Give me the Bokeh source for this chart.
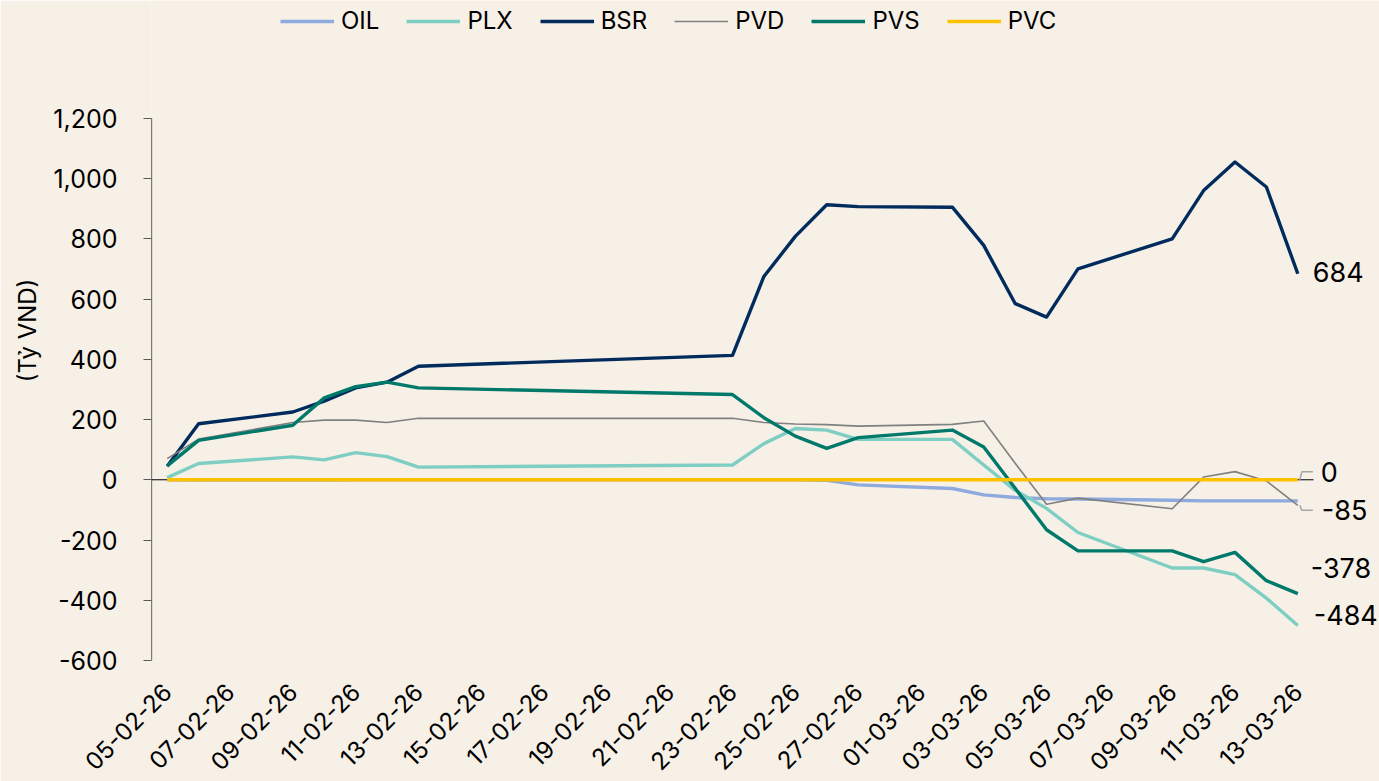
import pandas as pd
from math import pi
from bokeh.plotting import figure
from bokeh.models import (Range1d, FixedTicker, NumeralTickFormatter, Legend, LegendItem,
                          ColumnDataSource)
from bokeh.core.properties import value
from bokeh.embed import file_html
from bokeh.resources import INLINE

# ---------------- data ----------------
dates = ["05-02-26", "06-02-26", "09-02-26", "10-02-26", "11-02-26", "12-02-26", "13-02-26",
         "23-02-26", "24-02-26", "25-02-26", "26-02-26", "27-02-26", "02-03-26", "03-03-26",
         "04-03-26", "05-03-26", "06-03-26", "09-03-26", "10-03-26", "11-03-26", "12-03-26",
         "13-03-26"]
OIL = [0, -1, -1, -1, 0, 0, 0, 0, 0, 0, -2, -17, -29, -50, -59, -63, -64, -68, -70, -70, -70, -70]
PLX = [7, 54, 76, 66, 90, 77, 42, 49, 120, 170, 165, 134, 134, 49, -35, -95, -175, -293, -293,
       -315, -393, -484]
BSR = [45, 186, 225, 261, 305, 324, 377, 413, 675, 808, 913, 907, 905, 778, 585, 540, 700, 800,
       960, 1055, 972, 684]
PVD = [70, 135, 190, 198, 198, 190, 204, 204, 190, 185, 183, 178, 184, 195, 55, -81, -61, -96,
       9, 27, -4, -85]
PVS = [46, 131, 181, 272, 309, 324, 305, 283, 206, 145, 104, 140, 165, 109, -28, -166, -236,
       -236, -272, -241, -335, -378]
PVC = [0] * 22

series_names = ["OIL", "PLX", "BSR", "PVD", "PVS", "PVC"]
series_values = [OIL, PLX, BSR, PVD, PVS, PVC]

tick_labels = ["05-02-26", "07-02-26", "09-02-26", "11-02-26", "13-02-26", "15-02-26",
               "17-02-26", "19-02-26", "21-02-26", "23-02-26", "25-02-26", "27-02-26",
               "01-03-26", "03-03-26", "05-03-26", "07-03-26", "09-03-26", "11-03-26",
               "13-03-26"]
y_ticks = [-600, -400, -200, 0, 200, 400, 600, 800, 1000, 1200]
y_title = "(Tỷ VND)"

# series that carry an end value label
labelled = ["BSR", "PVC", "PVD", "PVS", "PLX"]

# ---------------- style / layout ----------------
colors = {"OIL": "#8FAADC", "PLX": "#7FCEC3", "BSR": "#002B5C", "PVD": "#808080",
          "PVS": "#00796B", "PVC": "#FFC000"}
widths = {"OIL": 3.4, "PLX": 3.4, "BSR": 3.4, "PVD": 1.6, "PVS": 3.4, "PVC": 3.4}
label_off = {"BSR": (15, -2), "PVC": (23, -8), "PVD": (24, 5), "PVS": (13, -26), "PLX": (16, -11)}
leader_for = ["PVC", "PVD"]
BG = "#F6F0E7"
FONT = "Inter"

W, H = 1379, 781
PLOT_L, PLOT_R, PLOT_T, PLOT_B = 151, 1313, 118, 661   # visible plot area (px)

start = pd.Timestamp(2026, 2, 5)


def day(s):
    return float((pd.to_datetime(s, format="%d-%m-%y") - start).days)


x = [day(d) for d in dates]
tick_pos = [day(t) for t in tick_labels]

x0, x1 = tick_pos[0] - 0.5, tick_pos[-1] + 0.5
y0, y1 = y_ticks[0], y_ticks[-1]
dx_px = (x1 - x0) / (PLOT_R - PLOT_L)
dy_px = (y1 - y0) / (PLOT_B - PLOT_T)

# frame covers everything right of the y axis and above the x labels
FH = PLOT_B
p = figure(width=W, height=H, output_backend="svg", toolbar_location=None,
           x_range=Range1d(x0, x0 + (W - PLOT_L) * dx_px),
           y_range=Range1d(y0, y1 + PLOT_T * dy_px),
           min_border_left=PLOT_L, min_border_right=0, min_border_top=0,
           min_border_bottom=H - PLOT_B,
           background_fill_color=BG, border_fill_color=BG, outline_line_color=None)
p.grid.visible = False

# zero line (horizontal axis) and vertical axis line
p.line([x0, x1], [0, 0], line_color="#000000", line_width=1)
p.line([x0, x0], [y0, y1], line_color="#000000", line_width=1.2)

items = []
for name, vals in zip(series_names, series_values):
    src = ColumnDataSource(dict(x=x, y=vals))
    r = p.line("x", "y", source=src, line_color=colors[name], line_width=widths[name],
               line_join="round")
    items.append(LegendItem(label=name, renderers=[r]))

# end labels + leaders
for name in labelled:
    vals = series_values[series_names.index(name)]
    xo, yo = label_off[name]
    p.text(x=[x[-1]], y=[vals[-1]], text=[f"{vals[-1]:,}"], x_offset=xo, y_offset=yo,
           text_font=value(FONT), text_font_size="27px", text_color="#000000",
           text_align="left", text_baseline="middle")
    if name in leader_for:
        lx = [x[-1] + 2 * dx_px, x[-1] + 4 * dx_px, x[-1] + 15 * dx_px]
        ly = [vals[-1], vals[-1] - yo * dy_px, vals[-1] - yo * dy_px]
        p.line(lx, ly, line_color="#A6A6A6", line_width=1.5)

# axes
xa = p.xaxis[0]
xa.ticker = FixedTicker(ticks=tick_pos)
xa.major_label_overrides = {t: l for t, l in zip(tick_pos, tick_labels)}
xa.major_label_orientation = pi / 4
xa.axis_line_color = None
xa.major_tick_line_color = None
xa.minor_tick_line_color = None
xa.major_label_text_font = FONT
xa.major_label_text_font_size = "24px"
xa.major_label_text_color = "#000000"
xa.major_label_standoff = 21

ya = p.yaxis[0]
ya.ticker = FixedTicker(ticks=y_ticks)
ya.formatter = NumeralTickFormatter(format="0,0")
ya.axis_line_color = None
ya.major_tick_line_color = "#595959"
ya.major_tick_in = 0
ya.major_tick_out = 8
ya.minor_tick_line_color = None
ya.major_label_text_font = FONT
ya.major_label_text_font_size = "25px"
ya.major_label_text_color = "#000000"
ya.major_label_standoff = 26
ya.axis_label = y_title
ya.axis_label_text_font = FONT
ya.axis_label_text_font_size = "24px"
ya.axis_label_text_font_style = "normal"
ya.axis_label_text_color = "#000000"
ya.axis_label_standoff = 8

legend = Legend(items=items, orientation="horizontal", location=(129, FH - 36),
                glyph_width=54, glyph_height=22, label_standoff=7, spacing=27,
                padding=0, margin=0, border_line_color=None, background_fill_alpha=0,
                label_text_font=FONT, label_text_font_size="24px", label_text_color="#000000")
p.add_layout(legend, "center")

open("out.html", "w").write(file_html(p, INLINE))
